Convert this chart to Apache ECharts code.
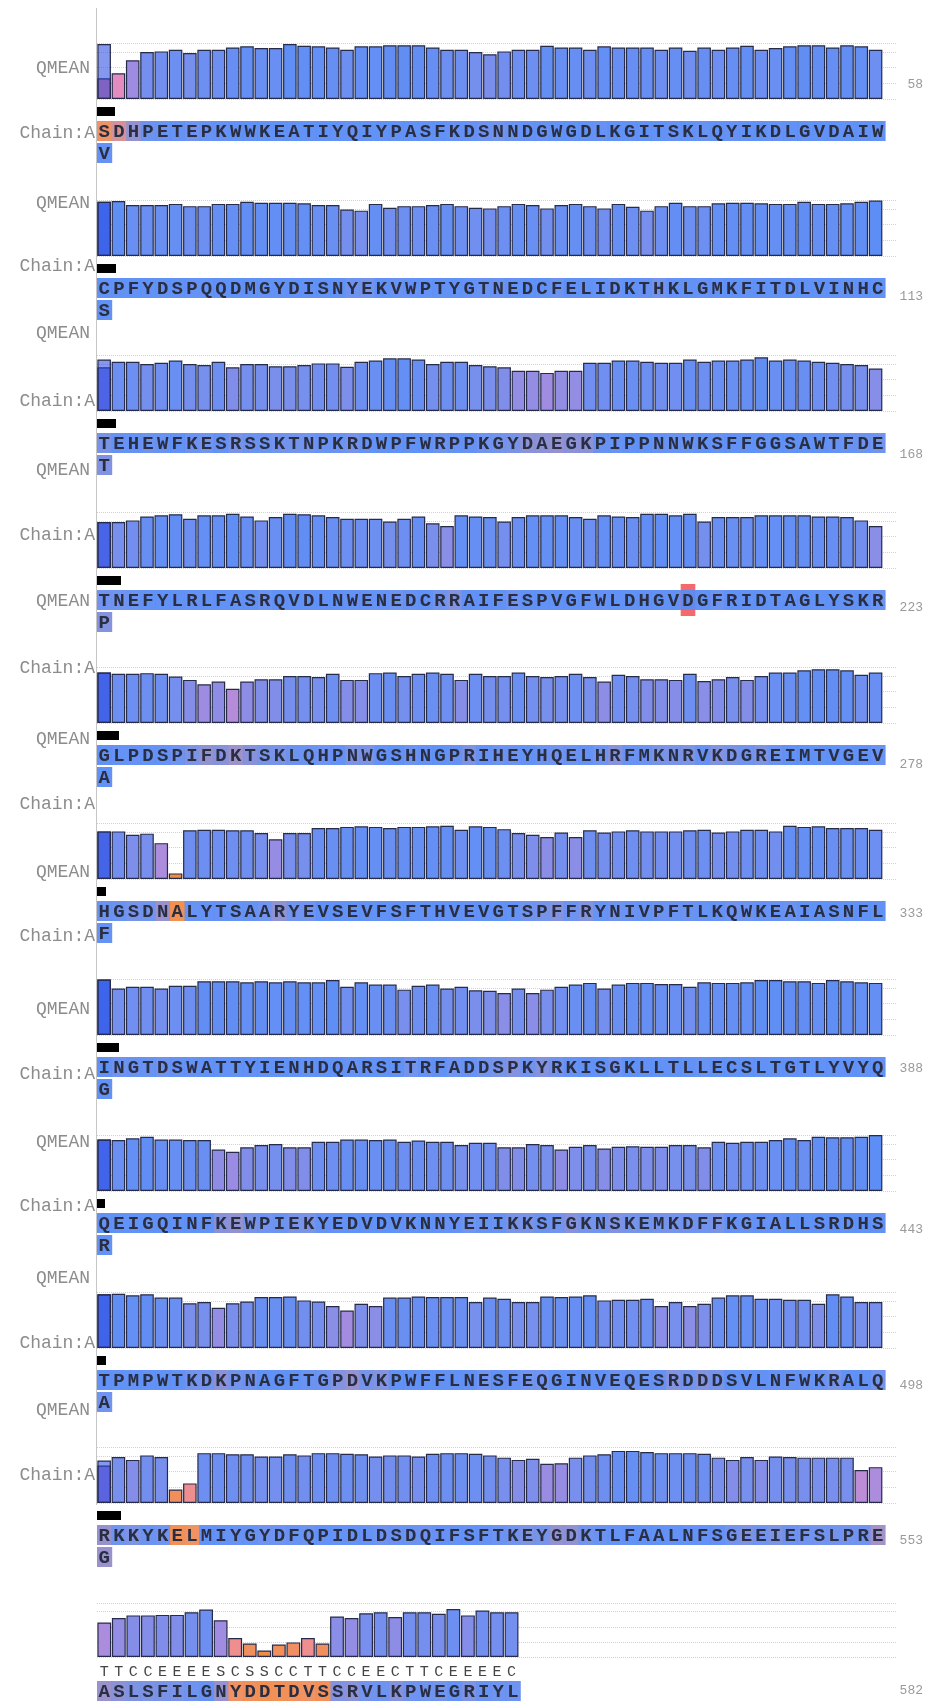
<!DOCTYPE html>
<html>
<head>
<meta charset="utf-8">
<script src="https://cdn.jsdelivr.net/npm/echarts@6/dist/echarts.min.js"></script>
<style>
  html, body { margin: 0; padding: 0; background: #fff; }
  #chart { width: 945px; height: 1702px; }
</style>
</head>
<body>
<div id="chart"></div>
<script>
// sequence, one line per panel (last residue wraps onto a second line)
const seqRow1 = 'SDHPETEPKWWKEATIYQIYPASFKDSNNDGWGDLKGITSKLQYIKDLGVDAIWV';
const seqRow2 = 'CPFYDSPQQDMGYDISNYEKVWPTYGTNEDCFELIDKTHKLGMKFITDLVINHCS';
const seqRow3 = 'TEHEWFKESRSSKTNPKRDWPFWRPPKGYDAEGKPIPPNNWKSFFGGSAWTFDET';
const seqRow4 = 'TNEFYLRLFASRQVDLNWENEDCRRAIFESPVGFWLDHGVDGFRIDTAGLYSKRP';
const seqRow5 = 'GLPDSPIFDKTSKLQHPNWGSHNGPRIHEYHQELHRFMKNRVKDGREIMTVGEVA';
const seqRow6 = 'HGSDNALYTSAARYEVSEVFSFTHVEVGTSPFFRYNIVPFTLKQWKEAIASNFLF';
const seqRow7 = 'INGTDSWATTYIENHDQARSITRFADDSPKYRKISGKLLTLLECSLTGTLYVYQG';
const seqRow8 = 'QEIGQINFKEWPIEKYEDVDVKNNYEIIKKSFGKNSKEMKDFFKGIALLSRDHSR';
const seqRow9 = 'TPMPWTKDKPNAGFTGPDVKPWFFLNESFEQGINVEQESRDDDSVLNFWKRALQA';
const seqRow10 = 'RKKYKELMIYGYDFQPIDLDSDQIFSFTKEYGDKTLFAALNFSGEEIEFSLPREG';
const seqRow11 = 'ASLSFILGNYDDTDVSSRVLKPWEGRIYL';
const ssRow11 = 'TTCCEEEESCSSCCTTCCEECTTCEEEEC';

// per-residue QMEAN local score
const qmean1 = [0.37, 0.46, 0.69, 0.84, 0.85, 0.88, 0.82, 0.88, 0.88, 0.92, 0.94, 0.91, 0.91, 0.98, 0.95, 0.94, 0.92, 0.88, 0.94, 0.94, 0.96, 0.96, 0.96, 0.92, 0.88, 0.88, 0.84, 0.80, 0.85, 0.88, 0.88, 0.95, 0.92, 0.92, 0.88, 0.94, 0.92, 0.92, 0.92, 0.88, 0.92, 0.86, 0.92, 0.88, 0.92, 0.95, 0.88, 0.91, 0.94, 0.96, 0.96, 0.92, 0.96, 0.94, 0.88];
const qmean2 = [0.97, 0.98, 0.91, 0.91, 0.91, 0.93, 0.89, 0.89, 0.93, 0.93, 0.97, 0.95, 0.95, 0.95, 0.94, 0.91, 0.91, 0.83, 0.81, 0.93, 0.86, 0.89, 0.89, 0.91, 0.93, 0.89, 0.86, 0.85, 0.89, 0.93, 0.91, 0.85, 0.91, 0.93, 0.89, 0.85, 0.93, 0.88, 0.81, 0.89, 0.95, 0.89, 0.89, 0.94, 0.95, 0.95, 0.94, 0.93, 0.93, 0.97, 0.93, 0.93, 0.94, 0.97, 0.99];
const qmean3 = [0.78, 0.88, 0.88, 0.84, 0.86, 0.90, 0.84, 0.82, 0.88, 0.78, 0.84, 0.84, 0.80, 0.80, 0.82, 0.85, 0.85, 0.79, 0.88, 0.90, 0.94, 0.94, 0.92, 0.84, 0.88, 0.88, 0.82, 0.80, 0.78, 0.72, 0.72, 0.68, 0.72, 0.72, 0.86, 0.86, 0.90, 0.90, 0.88, 0.86, 0.86, 0.92, 0.88, 0.90, 0.90, 0.92, 0.96, 0.90, 0.92, 0.90, 0.88, 0.86, 0.84, 0.82, 0.76];
const qmean4 = [0.82, 0.82, 0.85, 0.92, 0.94, 0.96, 0.88, 0.94, 0.94, 0.97, 0.92, 0.85, 0.91, 0.97, 0.96, 0.94, 0.91, 0.88, 0.88, 0.88, 0.83, 0.88, 0.92, 0.80, 0.75, 0.94, 0.92, 0.91, 0.83, 0.91, 0.94, 0.94, 0.94, 0.91, 0.88, 0.94, 0.92, 0.91, 0.97, 0.97, 0.94, 0.97, 0.83, 0.91, 0.91, 0.91, 0.94, 0.94, 0.94, 0.94, 0.92, 0.92, 0.91, 0.85, 0.75];
const qmean5 = [0.90, 0.88, 0.88, 0.89, 0.88, 0.83, 0.77, 0.69, 0.74, 0.61, 0.74, 0.78, 0.78, 0.84, 0.84, 0.82, 0.88, 0.77, 0.77, 0.89, 0.90, 0.84, 0.88, 0.90, 0.88, 0.77, 0.88, 0.84, 0.84, 0.90, 0.84, 0.82, 0.84, 0.88, 0.82, 0.74, 0.86, 0.84, 0.78, 0.78, 0.77, 0.88, 0.75, 0.78, 0.82, 0.77, 0.84, 0.90, 0.90, 0.94, 0.96, 0.96, 0.94, 0.86, 0.90];
const qmean6 = [0.85, 0.85, 0.79, 0.81, 0.64, 0.10, 0.87, 0.88, 0.88, 0.87, 0.87, 0.82, 0.71, 0.82, 0.82, 0.91, 0.91, 0.93, 0.94, 0.93, 0.91, 0.93, 0.93, 0.94, 0.95, 0.88, 0.94, 0.93, 0.89, 0.82, 0.79, 0.75, 0.83, 0.75, 0.87, 0.83, 0.85, 0.87, 0.85, 0.85, 0.85, 0.87, 0.88, 0.83, 0.85, 0.88, 0.88, 0.85, 0.95, 0.93, 0.94, 0.91, 0.91, 0.91, 0.88];
const qmean7 = [0.99, 0.83, 0.86, 0.86, 0.83, 0.88, 0.88, 0.96, 0.96, 0.96, 0.94, 0.96, 0.94, 0.96, 0.94, 0.94, 0.98, 0.86, 0.94, 0.90, 0.90, 0.81, 0.88, 0.90, 0.83, 0.86, 0.80, 0.79, 0.75, 0.83, 0.75, 0.81, 0.86, 0.90, 0.93, 0.83, 0.90, 0.93, 0.93, 0.91, 0.91, 0.86, 0.94, 0.93, 0.93, 0.94, 0.98, 0.98, 0.96, 0.96, 0.93, 0.98, 0.96, 0.94, 0.93];
const qmean8 = [0.92, 0.91, 0.94, 0.97, 0.92, 0.92, 0.91, 0.91, 0.74, 0.70, 0.78, 0.82, 0.84, 0.78, 0.78, 0.88, 0.88, 0.92, 0.92, 0.91, 0.92, 0.88, 0.90, 0.88, 0.88, 0.82, 0.86, 0.86, 0.78, 0.78, 0.84, 0.82, 0.74, 0.79, 0.82, 0.76, 0.79, 0.80, 0.79, 0.79, 0.82, 0.82, 0.78, 0.88, 0.86, 0.88, 0.88, 0.91, 0.94, 0.91, 0.97, 0.96, 0.96, 0.97, 1.00];
const qmean9 = [0.96, 0.97, 0.94, 0.96, 0.90, 0.90, 0.80, 0.82, 0.72, 0.80, 0.83, 0.91, 0.91, 0.92, 0.85, 0.83, 0.75, 0.67, 0.79, 0.75, 0.90, 0.90, 0.92, 0.91, 0.91, 0.91, 0.82, 0.90, 0.88, 0.82, 0.82, 0.92, 0.91, 0.92, 0.94, 0.85, 0.86, 0.86, 0.88, 0.75, 0.82, 0.75, 0.79, 0.90, 0.94, 0.94, 0.88, 0.88, 0.86, 0.86, 0.79, 0.96, 0.92, 0.82, 0.82];
const qmean10 = [0.67, 0.82, 0.77, 0.85, 0.82, 0.24, 0.35, 0.89, 0.89, 0.87, 0.87, 0.83, 0.83, 0.87, 0.85, 0.89, 0.89, 0.88, 0.87, 0.83, 0.85, 0.85, 0.83, 0.88, 0.89, 0.89, 0.88, 0.85, 0.81, 0.77, 0.79, 0.70, 0.71, 0.81, 0.85, 0.87, 0.93, 0.93, 0.91, 0.89, 0.89, 0.89, 0.88, 0.81, 0.77, 0.82, 0.77, 0.83, 0.82, 0.81, 0.81, 0.81, 0.81, 0.59, 0.64];
const qmean11 = [0.64, 0.72, 0.77, 0.77, 0.78, 0.78, 0.83, 0.88, 0.68, 0.35, 0.25, 0.12, 0.23, 0.27, 0.35, 0.25, 0.75, 0.72, 0.81, 0.83, 0.74, 0.83, 0.83, 0.80, 0.89, 0.77, 0.86, 0.83, 0.83];

// the doubled first bar of each panel
const firstBarOverlay = [0.98, 0.97, 0.92, 0.82, 0.90, 0.85, 0.99, 0.92, 0.96, 0.76, null];
const rowEndNumbers = ['58', '113', '168', '223', '278', '333', '388', '443', '498', '553', '582'];
const flaggedResidues = [[3, 40]];   // [panel, residue in panel]

const seqRows = [seqRow1, seqRow2, seqRow3, seqRow4, seqRow5, seqRow6, seqRow7, seqRow8, seqRow9, seqRow10, seqRow11];
const qmeanRows = [qmean1, qmean2, qmean3, qmean4, qmean5, qmean6, qmean7, qmean8, qmean9, qmean10, qmean11];

// layout
const barTops = [43, 200, 355, 512, 667, 823, 979, 1135, 1292, 1447, 1603];
const qmeanLabelY = [68, 203, 333, 470, 601, 739, 872, 1009, 1142, 1278, 1410];
const chainLabelY = [133, 266, 401, 535, 668, 804, 936, 1074, 1206, 1343, 1475];
const numberY = [85, 297, 455, 608, 765, 914, 1069, 1230, 1386, 1541, 1691];
const blackMarkW = [18, 19, 19, 24, 22, 9, 22, 8, 9, 24];

const chart = echarts.init(document.getElementById('chart'));

const grid = [], xAxis = [], yAxis = [], series = [], graphic = [];
const barSeries = [], letterSeries = [];
const monoFont = '"Liberation Mono", "DejaVu Sans Mono", monospace';

function letterRenderer(k) {
  const letters = seqRows[k];
  return function (params, api) {
    const p = api.coord([api.value(0), api.value(1)]);
    const w = api.size([1, 0])[0];
    const children = [];
    const flagged = flaggedResidues.some(f => f[0] === k && f[1] === params.dataIndex);
    if (flagged) {
      children.push({ type: 'rect', shape: { x: p[0], y: p[1] - 6, width: w, height: 32 },
        style: { fill: '#f46a6a' } });
    }
    children.push({ type: 'rect', shape: { x: p[0], y: p[1], width: w + 0.6, height: 20 },
      style: { fill: api.visual('color'), opacity: 0.95 } });
    children.push({ type: 'text', style: {
      text: letters[params.dataIndex], x: p[0] + w / 2, y: p[1] + 11,
      align: 'center', verticalAlign: 'middle',
      font: 'bold 19px ' + monoFont, fill: '#2a2e42' } });
    return { type: 'group', children: children };
  };
}

qmeanRows.forEach((vals, k) => {
  const last = k === qmeanRows.length - 1;
  const top = barTops[k];
  const slots = last ? 55 : 56;
  const gi = grid.length;

  grid.push({ left: 97, top: top, width: 800, height: last ? 54 : 56 });
  xAxis.push({
    type: 'category', gridIndex: gi,
    data: Array.from({ length: slots }, (_, i) => last ? (ssRow11[i] || '') : String(i)),
    axisLine: { show: false }, axisTick: { show: false },
    axisLabel: last
      ? { show: true, interval: 0, margin: 8, color: '#444', fontFamily: monoFont, fontSize: 15 }
      : { show: false },
    splitLine: { show: false }
  });
  yAxis.push({
    type: 'value', gridIndex: gi, min: 0, max: 1, interval: 0.28,
    axisLine: { show: false }, axisTick: { show: false }, axisLabel: { show: false },
    splitLine: { lineStyle: { color: '#d2d2d2', type: 'dotted', width: 1 } }
  });

  grid.push({ left: 97, top: top + 78, width: 788, height: 44 });
  xAxis.push({ type: 'value', gridIndex: gi + 1, min: 0, max: 54, show: false });
  yAxis.push({ type: 'value', gridIndex: gi + 1, min: 0, max: 2, inverse: true, show: false });

  barSeries.push(series.length);
  series.push({
    type: 'bar', xAxisIndex: gi, yAxisIndex: gi, data: vals,
    barCategoryGap: '5%', barGap: '-100%', silent: true,
    itemStyle: { borderColor: '#262b4a', borderWidth: 1.2 }
  });
  if (firstBarOverlay[k] != null) {
    series.push({
      type: 'bar', xAxisIndex: gi, yAxisIndex: gi, data: [firstBarOverlay[k]],
      barCategoryGap: '5%', barGap: '-100%', silent: true, z: 3,
      itemStyle: { color: 'rgba(35,65,225,0.55)', borderColor: '#262b4a', borderWidth: 1.2 }
    });
  }

  letterSeries.push(series.length);
  series.push({
    type: 'custom', xAxisIndex: gi + 1, yAxisIndex: gi + 1, clip: false, silent: true,
    renderItem: letterRenderer(k),
    data: vals.map((v, i) => i < 54 ? [i, 0, v] : [0, 1, v])
  });

  // left labels, right residue numbers, small black marks
  graphic.push({ type: 'text', x: 90, y: qmeanLabelY[k],
    style: { text: 'QMEAN', align: 'right', verticalAlign: 'middle', font: '18px ' + monoFont, fill: '#8c8c8c' } });
  graphic.push({ type: 'text', x: 95, y: chainLabelY[k],
    style: { text: 'Chain:A', align: 'right', verticalAlign: 'middle', font: '18px ' + monoFont, fill: '#8c8c8c' } });
  graphic.push({ type: 'text', x: 923, y: numberY[k],
    style: { text: rowEndNumbers[k], align: 'right', verticalAlign: 'middle', font: '13px ' + monoFont, fill: '#9a9a9a' } });
  if (!last) {
    graphic.push({ type: 'rect', shape: { x: 97, y: top + 64, width: blackMarkW[k], height: 9 },
      style: { fill: '#000' } });
  }
});

graphic.push({ type: 'line', shape: { x1: 96.5, y1: 8, x2: 96.5, y2: 1505 },
  style: { stroke: '#c6c6c6', lineWidth: 1 }, z: -1 });

const option = {
  backgroundColor: '#ffffff',
  animation: false,
  grid: grid,
  xAxis: xAxis,
  yAxis: yAxis,
  visualMap: [{
    type: 'continuous', show: false, min: 0, max: 1, seriesIndex: barSeries,
    inRange: {
      color: ['#f08c3c', '#f08c44', '#f08e52', '#f0906a', '#ee8cb4', '#de8cc8',
              '#b88cd8', '#9a8ce2', '#7a8fec', '#6a8ff2', '#5c8ef6']
    }
  }, {
    type: 'continuous', show: false, min: 0, max: 1, seriesIndex: letterSeries,
    inRange: {
      color: ['#f08a48', '#f08a48', '#f08a4c', '#f08c54', '#ec8c64', '#c08cb0',
              '#9a8cc6', '#8c8cce', '#6c8eec', '#5a8cf6', '#5a8cf6']
    }
  }],
  graphic: graphic,
  series: series
};

chart.setOption(option);
</script>
</body>
</html>
